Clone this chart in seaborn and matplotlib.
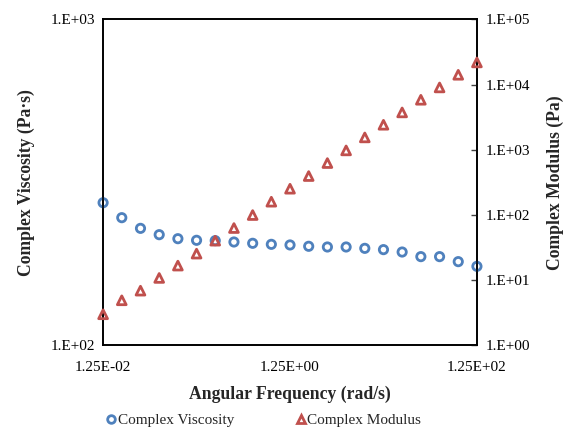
import numpy as np
import pandas as pd
import matplotlib
matplotlib.use("Agg")
import matplotlib.pyplot as plt
from matplotlib.lines import Line2D
import seaborn as sns

# Angular frequency sweep (rad/s), five points per decade
frequency = [0.0125, 0.0198, 0.0314, 0.0498, 0.0789, 0.125, 0.198, 0.314, 0.498, 0.789,
             1.25, 1.98, 3.14, 4.98, 7.89, 12.5, 19.8, 31.4, 49.8, 78.9, 125.0]
# Complex viscosity (Pa·s)
viscosity = [273.9, 246.4, 228.5, 218.5, 212.4, 210.0, 209.5, 207.5, 205.6, 204.1,
             203.2, 201.3, 200.3, 200.3, 198.4, 196.6, 193.3, 187.1, 187.1, 180.6, 174.7]
# Complex modulus (Pa)
modulus = [2.99, 4.90, 6.89, 10.8, 16.7, 25.5, 40.3, 63.0, 99.7, 159.8,
           252.8, 395.5, 626.0, 979.0, 1549.0, 2423.0, 3748.0, 5860.0, 9060.0, 14170.0, 21920.0]

x_ticks = [0.0125, 1.25, 125.0]
x_tick_labels = ["1.25E-02", "1.25E+00", "1.25E+02"]
left_ticks = [100, 1000]
left_tick_labels = ["1.E+02", "1.E+03"]
right_ticks = [1, 10, 100, 1000, 10000, 100000]
right_tick_labels = ["1.E+00", "1.E+01", "1.E+02", "1.E+03", "1.E+04", "1.E+05"]

df = pd.DataFrame({"freq": frequency, "visc": viscosity, "mod": modulus})

sns.set_theme(style="white")
plt.rcParams["font.family"] = ["Liberation Serif", "DejaVu Serif"]

blue = "#4F81BD"
red = "#C0504D"

fig = plt.figure(figsize=(5.76, 4.33), dpi=100)
ax = fig.add_axes([0.179, 0.2026, 0.649, 0.7524])
ax2 = ax.twinx()

sns.scatterplot(data=df, x="freq", y="visc", ax=ax, marker="o", s=36,
                facecolors="none", edgecolor=blue, linewidth=2.0, legend=False,
                clip_on=False, zorder=3)
sns.scatterplot(data=df, x="freq", y="mod", ax=ax2, marker="^", s=40,
                facecolors="none", edgecolor=red, linewidth=2.0, legend=False,
                clip_on=False, zorder=3)

ax.set_xscale("log")
ax.set_yscale("log")
ax2.set_yscale("log")
ax.set_xlim(0.0125, 125.0)
ax.set_ylim(100, 1000)
ax2.set_ylim(1, 100000)

ax.set_xticks(x_ticks)
ax.set_xticklabels(x_tick_labels)
ax.set_yticks(left_ticks)
ax.set_yticklabels(left_tick_labels)
ax2.set_yticks(right_ticks)
ax2.set_yticklabels(right_tick_labels)
ax.xaxis.set_minor_locator(matplotlib.ticker.NullLocator())
ax.yaxis.set_minor_locator(matplotlib.ticker.NullLocator())
ax2.yaxis.set_minor_locator(matplotlib.ticker.NullLocator())

ax.tick_params(axis="x", direction="in", length=4, width=1, color="#404040",
               pad=11, labelsize=11, labelcolor="black")
ax.tick_params(axis="y", direction="in", length=0, pad=6, labelsize=11, labelcolor="black")
ax2.tick_params(axis="y", direction="in", length=4, width=1, color="#404040",
                pad=6, labelsize=11, labelcolor="black")

for a in (ax, ax2):
    for sp in a.spines.values():
        sp.set_color("black")
        sp.set_linewidth(1.2)

ax.set_xlabel("Angular Frequency (rad/s)", fontsize=12.7, fontweight="bold", labelpad=9)
ax.set_ylabel("Complex Viscosity (Pa·s)", fontsize=12.7, fontweight="bold", labelpad=11)
ax2.set_ylabel("Complex Modulus (Pa)", fontsize=12.7, fontweight="bold", labelpad=12)

handles = [
    Line2D([], [], linestyle="none", marker="o", markersize=5.5, markerfacecolor="none",
           markeredgecolor=blue, markeredgewidth=2.0, label="Complex Viscosity"),
    Line2D([], [], linestyle="none", marker="^", markersize=6, markerfacecolor="none",
           markeredgecolor=red, markeredgewidth=2.0, label="Complex Modulus"),
]
fig.legend(handles=handles, loc="center", bbox_to_anchor=(0.458, 0.03), ncol=2,
           frameon=False, fontsize=11, handlelength=0.6, handletextpad=0.15,
           columnspacing=4.05)

fig.savefig("out.png", dpi=100)
